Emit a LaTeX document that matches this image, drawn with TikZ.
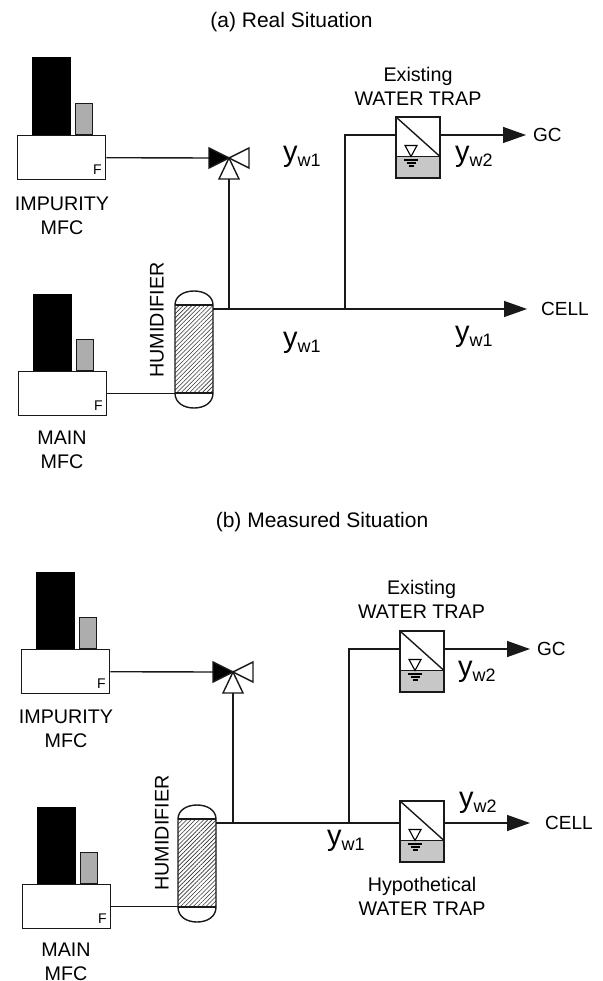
\documentclass[tikz,border=0pt]{standalone}
\usepackage{fontspec}
\setmainfont{Liberation Sans}
\usetikzlibrary{arrows.meta,patterns.meta}
\newcommand{\lbl}[1]{\fontsize{#1}{#1}\selectfont}
\newcommand{\ywt}[1]{{\lbl{29}y}\raisebox{-5pt}{\lbl{18}w#1}}
\tikzset{
  x=1pt,y=-1pt,
  txt/.style={inner sep=0pt,align=center,font=\lbl{19.7}},
  small/.style={inner sep=0pt,anchor=west,font=\lbl{19}},
  head/.style={inner sep=0pt,font=\lbl{21}},
  ytxt/.style={inner sep=0pt,anchor=base west},
  ln/.style={line width=1.4pt,black!90},
  pipe/.style={ln},
  flowarrow/.style={ln,-{Triangle[length=23pt,width=16pt]}},
  body/.style={draw=black!90,line width=1.4pt,fill=white,inner sep=0pt,minimum width=88pt,minimum height=44pt},
  trapbox/.style={draw=black!90,line width=1.4pt,fill=white,inner sep=0pt,minimum width=44pt,minimum height=61pt},
}
\newcommand{\mfc}[3]{%
  \node[body,anchor=north west] (#1) at (#2,#3) {};
  \fill[black] (#2+15,#3) rectangle (#2+54,#3-77.5);
  \draw[ln,fill=black!32] (#2+58.5,#3) rectangle (#2+75.5,#3-31.5);
  \node[inner sep=0pt,font=\lbl{14}] (#1F) at (#2+80.5,#3+34.5) {F};
}
\newcommand{\humid}[3]{%
  \node[inner sep=0pt,minimum width=38pt,minimum height=88pt,anchor=north west] (#1) at (#2,#3+14) {};
  \fill[white] (#2,#3+14) rectangle (#2+38,#3+102);
  \fill[pattern={Lines[angle=45,distance=3pt,line width=.6pt]},pattern color=black!80] (#2,#3+14) rectangle (#2+38,#3+102);
  \draw[ln] (#2,#3+14) -- (#2+38,#3+14) (#2,#3+102) -- (#2+38,#3+102);
  \draw[ln] (#2,#3+102) .. controls (#2,#3+112) and (#2+9,#3+117) .. (#2+19,#3+117)
     .. controls (#2+29,#3+117) and (#2+38,#3+112) .. (#2+38,#3+102)
     -- (#2+38,#3+14) .. controls (#2+38,#3+5) and (#2+29,#3) .. (#2+19,#3)
     .. controls (#2+9,#3) and (#2,#3+5) .. (#2,#3+14) -- cycle;
}
\newcommand{\trap}[3]{%
  \node[trapbox,anchor=north west] (#1) at (#2,#3) {};
  \fill[black!22] (#2,#3+39.5) rectangle (#2+44,#3+61);
  \draw[ln] (#2,#3) rectangle (#2+44,#3+61);
  \draw[ln] (#2,#3+39.5) -- (#2+44,#3+39.5);
  \draw[ln] (#2,#3) -- (#2+44,#3+39.5);
  \draw[line width=1.1pt] (#2+9,#3+28.5) -- (#2+21,#3+28.5) -- (#2+15,#3+39.5) -- cycle;
  \draw[line width=1.1pt] (#2+8,#3+43) -- (#2+22,#3+43) (#2+10.5,#3+46) -- (#2+19.5,#3+46) (#2+12.5,#3+49) -- (#2+17.5,#3+49);
}
\newcommand{\valve}[3]{%
  \coordinate (#1) at (#2,#3);
  \draw[ln,fill=black,line join=miter] (#2,#3) -- (#2-20,#3-10) -- (#2-20,#3+10) -- cycle;
  \draw[ln,fill=white] (#2,#3) -- (#2+20,#3-10) -- (#2+20,#3+10) -- cycle;
  \draw[ln,fill=white] (#2,#3) -- (#2-10,#3+21) -- (#2+10,#3+21) -- cycle;
  \coordinate (#1in) at (#2-20,#3);
  \coordinate (#1bot) at (#2,#3+21);
}
\begin{document}
\begin{tikzpicture}
\useasboundingbox (0,0) rectangle (602,981);
\fill[white] (0,0) rectangle (602,981);
% ---------- (a)
\node[head] (ta) at (291.5,22) {(a) Real Situation};
\mfc{imp}{17}{135}
\node[txt] (impl) at (62,216) {IMPURITY\\[4.3pt]MFC};
\valve{va}{229}{158}
\draw[pipe] (imp.east) -- (vain);
\mfc{main}{18}{371}
\node[txt] (mainl) at (62,450) {MAIN\\[4.3pt]MFC};
\humid{ha}{175}{291}
\draw[pipe] (main.east) -- (main.east -| ha.west);
\node[txt,rotate=90] (hl) at (157,320) {HUMIDIFIER};
\trap{tra}{396}{117}
\node[txt] (tral) at (418,86) {Existing\\[4.3pt]WATER TRAP};
\coordinate (ja) at (229,309);
\coordinate (jb) at (345,309);
\coordinate (jc) at (345,135);
\coordinate (enda) at (527,309);
\coordinate (endg) at (526,135);
\draw[pipe] (vabot) -- (ja);
\draw[pipe] (jb) -- (jc) -- (jc -| tra.west);
\draw[flowarrow] (ha.east |- ja) -- (enda);
\draw[flowarrow] (jc -| tra.east) -- (endg);
\node[small] (gca) at (533,135) {GC};
\node[small] (cella) at (541,309) {CELL};
\node[ytxt] at (283,162) {\ywt{1}};
\node[ytxt] at (283,347) {\ywt{1}};
\node[ytxt] at (455,341) {\ywt{1}};
\node[ytxt] at (455,162) {\ywt{2}};
% ---------- (b)
\node[head] (tb) at (322,522) {(b) Measured Situation};
\mfc{impb}{21}{649}
\node[txt] (implb) at (66,729) {IMPURITY\\[4.3pt]MFC};
\valve{vb}{233}{672}
\draw[pipe] (impb.east) -- (vbin);
\mfc{mainb}{22}{884}
\node[txt] (mainlb) at (66,962) {MAIN\\[4.3pt]MFC};
\humid{hb}{178}{805}
\draw[pipe] (mainb.east) -- (mainb.east -| hb.west);
\node[txt,rotate=90] (hlb) at (162,833) {HUMIDIFIER};
\trap{trb}{400}{631}
\node[txt] (trbl) at (421.5,599.5) {Existing\\[4.3pt]WATER TRAP};
\trap{trc}{400}{801}
\node[txt] (trcl) at (422,896) {Hypothetical\\[4.3pt]WATER TRAP};
\coordinate (jba) at (233,823);
\coordinate (jbb) at (349,823);
\coordinate (jbc) at (349,649);
\coordinate (endb) at (530,823);
\coordinate (endbg) at (530,649);
\draw[pipe] (vbbot) -- (jba);
\draw[pipe] (jbb) -- (jbc) -- (jbc -| trb.west);
\draw[pipe] (hb.east |- jba) -- (jba -| trc.west);
\draw[flowarrow] (jbc -| trb.east) -- (endbg);
\draw[flowarrow] (endb -| trc.east) -- (endb);
\node[small] (gcb) at (537,649) {GC};
\node[small] (cellb) at (545,823) {CELL};
\node[ytxt] at (327,845) {\ywt{1}};
\node[ytxt] at (458,676) {\ywt{2}};
\node[ytxt] at (459,807) {\ywt{2}};
\end{tikzpicture}
\end{document}
